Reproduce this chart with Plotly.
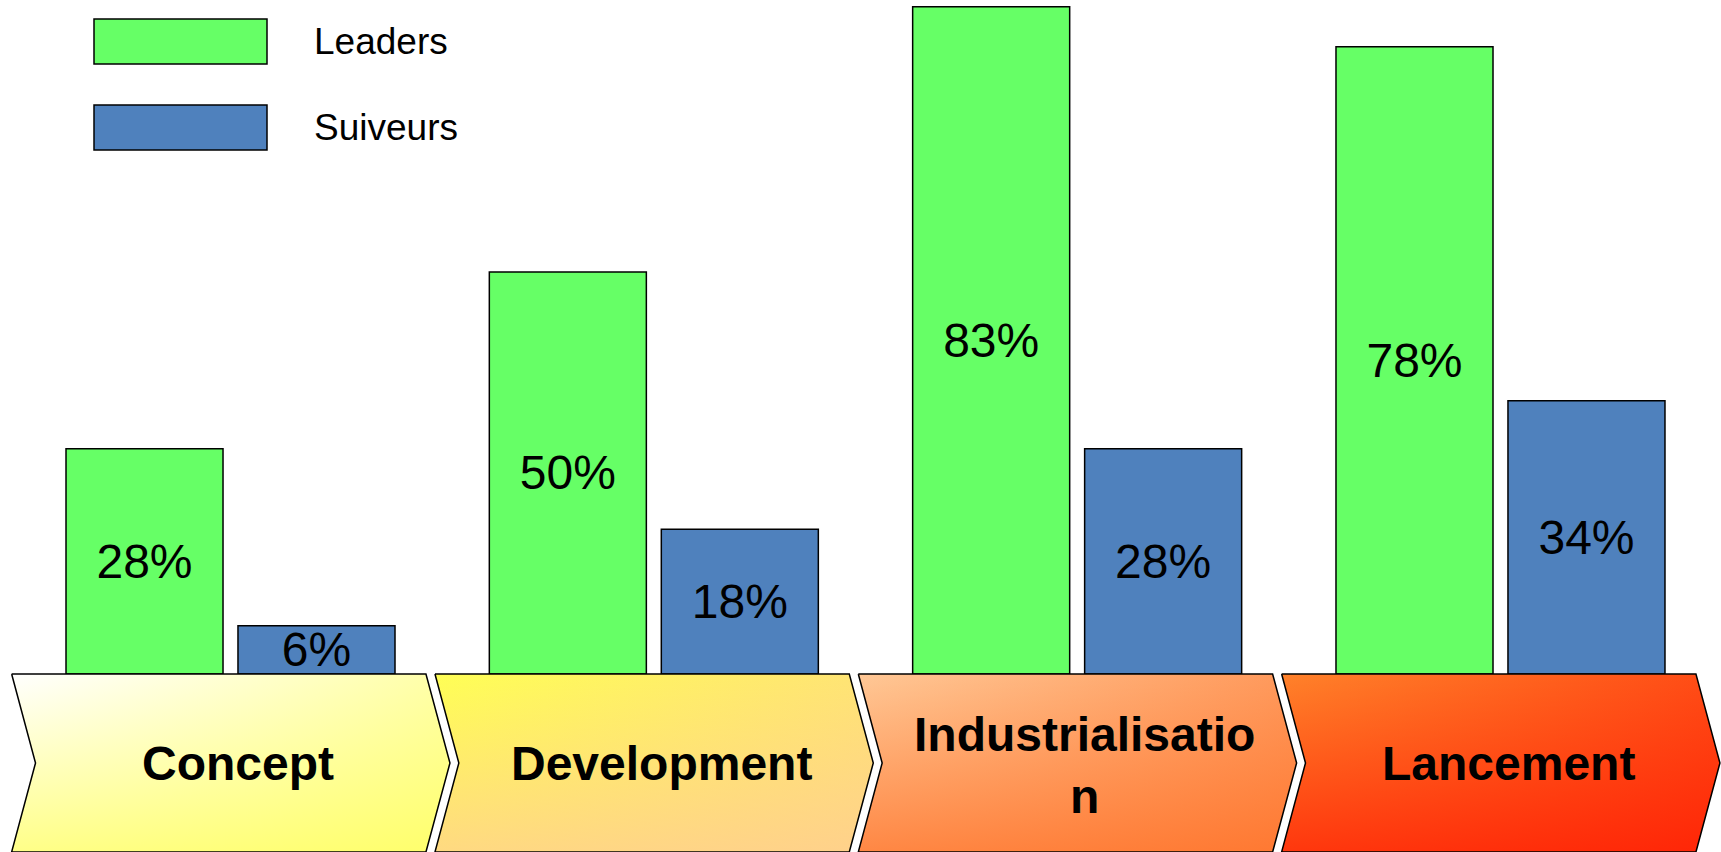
import plotly.graph_objects as go

# ---------------- data ----------------
categories = ["Concept", "Development", "Industrialisation", "Lancement"]
category_labels = ["Concept", "Development", "Industrialisatio<br>n", "Lancement"]
series_names = ["Leaders", "Suiveurs"]
leaders = [28, 50, 83, 78]
suiveurs = [6, 18, 28, 34]

# ---------------- styling ----------------
W, H = 1721, 852
ML, MR, MT, MB = 8, 0, 0, 0
X_RANGE = [-0.5256, 3.5209]
Y_RANGE = [-22.14, 83.83]
FONT = "Liberation Sans, Arial, sans-serif"
COLORS = {"Leaders": "#66FF66", "Suiveurs": "#4F81BD"}

# chevron gradient colours (top-left -> bottom-right)
chevron_colors = [
    ((255, 255, 255), (255, 255, 80)),
    ((255, 255, 85), (255, 200, 150)),
    ((255, 200, 150), (255, 105, 30)),
    ((255, 130, 42), (255, 20, 0)),
]

x_pos = list(range(len(categories)))

fig = go.Figure()

for name, vals in zip(series_names, [leaders, suiveurs]):
    fig.add_trace(go.Bar(
        x=x_pos, y=vals, name=name,
        marker=dict(color=COLORS[name], line=dict(color="black", width=1.5)),
        texttemplate="%{y}%", textposition="inside", insidetextanchor="middle",
        constraintext="none", textangle=0,
        textfont=dict(size=48, color="black", family=FONT),
        hoverinfo="skip", showlegend=False,
    ))


def rgb(c, a=None):
    if a is None:
        return "rgb(%d,%d,%d)" % c
    return "rgba(%d,%d,%d,%.3f)" % (c[0], c[1], c[2], a)


ybot = Y_RANGE[0]
ymid = ybot / 2.0
for i, (c0, c1) in enumerate(chevron_colors):
    xs = [i - 0.517, i + 0.4617, i + 0.5184, i + 0.4617, i - 0.517, i - 0.4606, i - 0.517]
    ys = [0, 0, ymid, ybot, ybot, ymid, 0]
    cm = tuple((a + b) / 2 for a, b in zip(c0, c1))
    fig.add_trace(go.Scatter(
        x=xs, y=ys, mode="lines", fill="toself",
        fillgradient=dict(type="horizontal", colorscale=[[0, rgb(c0)], [1, rgb(cm)]]),
        line=dict(width=0), hoverinfo="skip", showlegend=False,
    ))
    fig.add_trace(go.Scatter(
        x=xs, y=ys, mode="lines", fill="toself",
        fillgradient=dict(type="vertical", colorscale=[[0, rgb(c1, 0.68)], [1, rgb(c1, 0.0)]]),
        line=dict(color="black", width=1.5), hoverinfo="skip", showlegend=False,
    ))
    fig.add_annotation(
        x=i + 0.018, y=ymid - (0.35 if "<br>" in category_labels[i] else 0), xref="x", yref="y",
        text=category_labels[i],
        showarrow=False, xanchor="center", yanchor="middle",
        font=dict(size=48, color="black", family=FONT, weight="bold"),
    )

# ---------------- manual legend ----------------
PW = W - ML - MR
PH = H - MT - MB


def px_x(p):
    return (p - ML) / PW


def px_y(p):
    return 1 - (p - MT) / PH


legend_rows = [(19, 64), (105, 150)]
for name, (top, bottom) in zip(series_names, legend_rows):
    fig.add_shape(type="rect", xref="paper", yref="paper",
                  x0=px_x(94), x1=px_x(267), y0=px_y(bottom), y1=px_y(top),
                  fillcolor=COLORS[name], line=dict(color="black", width=1.5))
    fig.add_annotation(x=px_x(312), y=px_y((top + bottom) / 2), xref="paper", yref="paper",
                       text=name, showarrow=False, xanchor="left", yanchor="middle",
                       font=dict(size=37, color="black", family=FONT))

fig.update_layout(
    width=W, height=H,
    margin=dict(l=ML, r=MR, t=MT, b=MB, pad=0),
    paper_bgcolor="white", plot_bgcolor="white",
    barmode="group", bargap=0.1875, bargroupgap=0.087,
    xaxis=dict(range=X_RANGE, visible=False, fixedrange=True),
    yaxis=dict(range=Y_RANGE, visible=False, fixedrange=True),
    showlegend=False,
)

fig.write_html(
    "out.html",
    config={"displayModeBar": False},
    post_script="document.body.style.margin='0';document.body.style.overflow='hidden';",
)
